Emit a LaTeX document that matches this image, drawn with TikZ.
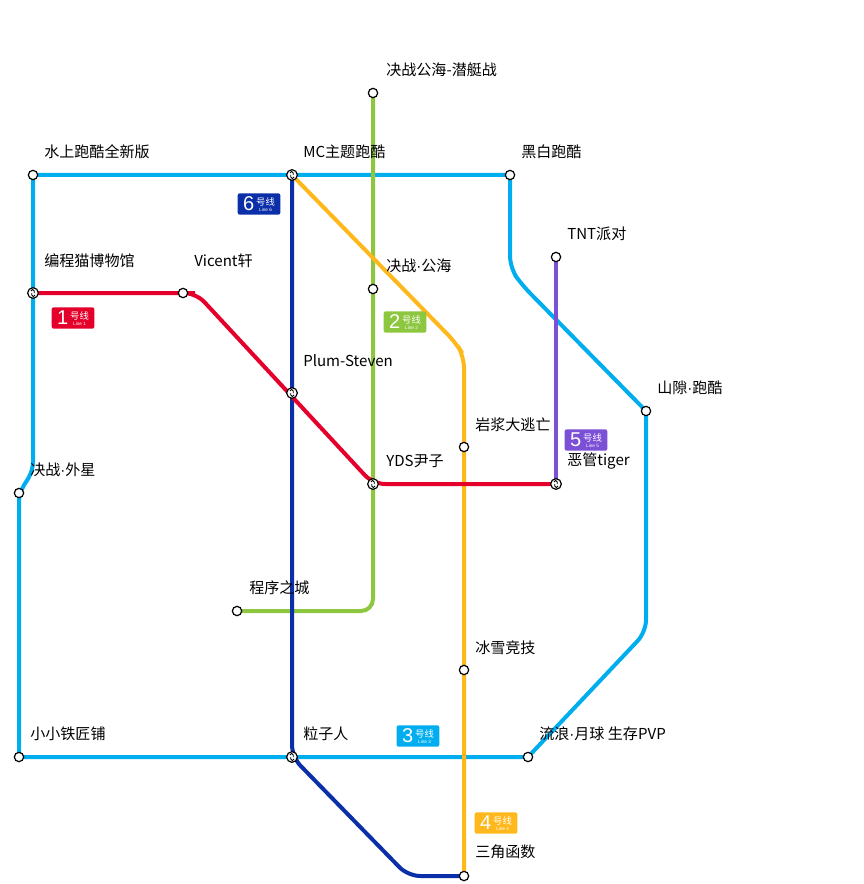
\documentclass[tikz,border=0pt]{standalone}
\usepackage{fontspec}
\setmainfont{Noto Sans CJK SC}
\newfontfamily\lat{Liberation Sans}
\newcommand{\md}{{\lat ·}}
\begin{document}
\begin{tikzpicture}[x=0.75pt,y=-0.75pt,
  ln/.style={line width=3pt},
  st/.style={circle,draw=black,fill=white,line width=0.9pt,inner sep=0pt,minimum size=7pt},
  ic/.style={circle,draw=black,fill=white,line width=0.9pt,inner sep=0pt,minimum size=8pt,
    path picture={\draw[line width=0.6pt] ([xshift=-1.5pt,yshift=1.5pt]path picture bounding box.center) arc(180:0:1.2pt) -- ++(0,-1.5pt) (path picture bounding box.center) ++(1.5pt,-1.5pt) arc(0:-180:1.2pt) -- ++(0,1.5pt);}},
  lb/.style={anchor=west,font=\fontsize{11.3}{13}\selectfont,inner sep=0pt},
  bd/.style={fill=#1,text=white,rounded corners=1.5pt,minimum width=32pt,minimum height=16pt,inner sep=0pt}]
\definecolor{c1}{HTML}{E4002B}\definecolor{c2}{HTML}{8DC63F}\definecolor{c3}{HTML}{00AEEF}
\definecolor{c4}{HTML}{FFB81C}\definecolor{c5}{HTML}{7B4FD6}\definecolor{c6}{HTML}{0A2FA8}
\useasboundingbox (0,0) rectangle (863,884);
\coordinate (shang) at (33,175); \coordinate (mc) at (292,175); \coordinate (hb) at (510,175);
\coordinate (qt) at (373,93); \coordinate (tnt) at (556,257); \coordinate (bc) at (33,293);
\coordinate (vc) at (183,293); \coordinate (gh) at (373,289); \coordinate (ps) at (292,393);
\coordinate (sx) at (646,411); \coordinate (yj) at (464,447); \coordinate (yds) at (373,484);
\coordinate (eg) at (556,484); \coordinate (wx) at (19,493); \coordinate (cx) at (237,611);
\coordinate (bx) at (464,670); \coordinate (tj) at (19,757); \coordinate (lz) at (292,757);
\coordinate (ll) at (528,757); \coordinate (sj) at (464,876);
\draw[ln,c3] (shang) -- (hb) [rounded corners=9pt] -- (510,268) -- (522,285) [sharp corners] -- (sx)
  [rounded corners=9pt] -- (646,632) [sharp corners] -- (ll) -- (tj) -- (wx) [rounded corners=9pt] -- (19,490) -- (33,474) [sharp corners] -- (shang);
\draw[ln,c2,rounded corners=9pt] (qt) -- (373,611) -- (cx);
\draw[ln,c4,rounded corners=9pt] (mc) -- (456,343) -- (464,356) -- (sj);
\draw[ln,c6,rounded corners=9pt] (mc) -- (lz) -- (408,876) -- (sj);
\draw[ln,c1,rounded corners=9pt] (bc) -- (vc) -- (196,293) -- (yds) -- (eg);
\draw[ln,c5] (tnt) -- (eg);
\foreach \p in {shang,hb,qt,tnt,vc,gh,sx,yj,wx,cx,bx,tj,ll,sj} \node[st] (n\p) at (\p) {};
\foreach \p in {mc,bc,ps,yds,eg,lz} \node[ic] (n\p) at (\p) {};
\node[lb] (t1) at (386,70) {决战公海-潜艇战};
\node[lb] (t2) at (44,152) {水上跑酷全新版};
\node[lb] (t3) at (303,152) {MC主题跑酷};
\node[lb] (t4) at (521,152) {黑白跑酷};
\node[lb] (t5) at (567,234) {TNT派对};
\node[lb] (t6) at (44,261) {编程猫博物馆};
\node[lb] (t7) at (194,261) {Vicent轩};
\node[lb] (t8) at (386,266) {决战\md 公海};
\node[lb] (t9) at (303,361) {Plum-Steven};
\node[lb] (t10) at (657,388) {山隙\md 跑酷};
\node[lb] (t11) at (475,425) {岩浆大逃亡};
\node[lb] (t12) at (567,461) {恶管tiger};
\node[lb] (t13) at (386,461) {YDS尹子};
\node[lb] (t14) at (30,470) {决战\md 外星};
\node[lb] (t15) at (249,588) {程序之城};
\node[lb] (t16) at (475,648) {冰雪竞技};
\node[lb] (t17) at (30,734) {小小铁匠铺};
\node[lb] (t18) at (303,734) {粒子人};
\node[lb] (t19) at (539,734) {流浪\md 月球 生存PVP};
\node[lb] (t20) at (475,852) {三角函数};
\foreach \n/\c/\x/\y in {6/c6/259/204,1/c1/73/318,2/c2/405/322,5/c5/586/440,3/c3/418/736,4/c4/496/823}{
  \node[bd=\c] (b\n) at (\x,\y) {{\lat\fontsize{15}{15}\selectfont\n}\hspace{1.5pt}\raisebox{-0.5pt}{\shortstack{{\fontsize{7}{7}\selectfont 号线}\\[-1.5pt]{\lat\fontsize{3.5}{3.5}\selectfont Line \n}}}};
}
\end{tikzpicture}
\end{document}
